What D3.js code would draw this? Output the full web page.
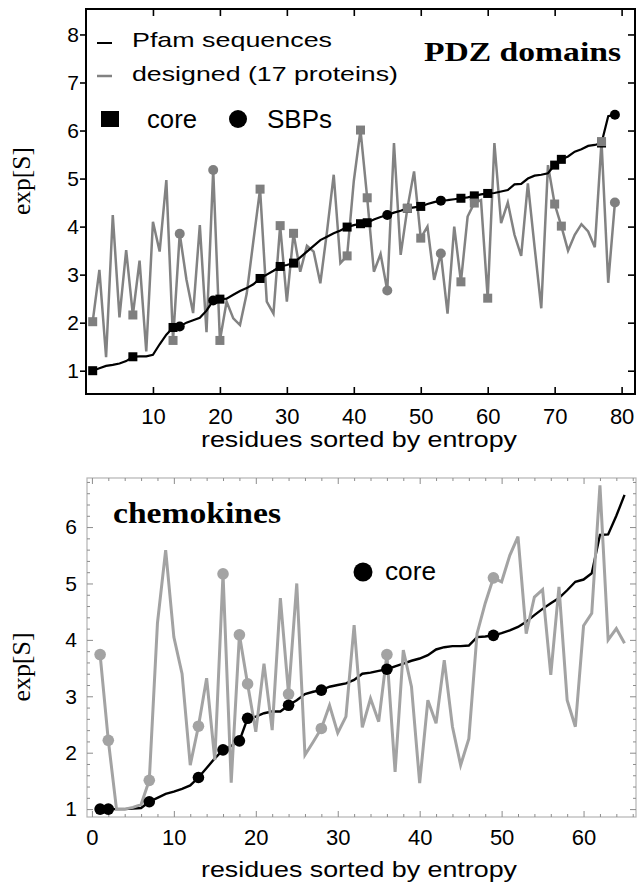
<!DOCTYPE html>
<html lang="en">
<head>
	<meta charset="UTF-8">
	<title>exp[S] - PDZ domains and chemokines</title>
	<script src="https://d3js.org/d3.v7.min.js"></script>
	<style>
		body { margin: 0; background: #ffffff; }
		svg { display: block; }
		text { font-family: "Liberation Sans", Arial, sans-serif; fill: #000; }
		.serif { font-family: "Liberation Serif", "Times New Roman", serif; }
	</style>
</head>
<body>
<script>
	// ---- PDZ domains (top panel), residue 1..79 ----
	var pdzPfam = [1.0,1.05,1.1,1.12,1.15,1.2,1.29,1.3,1.3,1.33,
		1.55,1.75,1.9,1.92,2.0,2.05,2.1,2.25,2.46,2.49,
		2.5,2.58,2.66,2.72,2.8,2.92,3.0,3.08,3.17,3.2,
		3.24,3.36,3.48,3.6,3.72,3.79,3.86,3.92,3.99,4.03,
		4.06,4.08,4.15,4.2,4.24,4.29,4.33,4.38,4.4,4.42,
		4.47,4.51,4.54,4.55,4.57,4.59,4.61,4.64,4.67,4.69,
		4.7,4.73,4.76,4.88,4.89,5.0,5.06,5.08,5.11,5.28,
		5.4,5.46,5.56,5.61,5.68,5.7,5.74,6.3,6.33];
	var pdzDesigned = [2.02,3.1,1.28,4.24,2.11,3.51,2.16,3.29,1.4,4.1,
		3.48,4.97,1.63,3.85,2.9,2.2,4.03,1.8,5.18,1.63,
		2.44,2.09,1.95,2.6,3.7,4.78,2.44,2.19,4.02,2.44,
		3.86,3.06,3.6,3.48,2.82,3.9,5.08,3.24,3.39,4.95,
		6.01,4.6,3.06,3.43,2.67,5.74,3.41,4.38,5.15,3.76,
		4.0,2.89,3.44,2.19,4.0,2.85,4.21,4.49,4.55,2.51,
		5.74,4.07,4.5,3.83,3.39,4.9,3.58,2.3,5.28,4.47,
		4.01,3.5,3.83,4.05,3.9,3.57,5.77,2.83,4.5];
	var pdzCore = [1,7,13,20,26,29,31,39,41,42,48,50,56,58,60,70,71,77];
	var pdzSbp = [14,19,45,53,79];
	var pdzXTicks = [10,20,30,40,50,60,70,80];
	var pdzYTicks = [1,2,3,4,5,6,7,8];

	// ---- chemokines (bottom panel), residue 1..65 ----
	var chemPfam = [1.0,1.0,1.0,1.0,1.01,1.02,1.13,1.2,1.27,1.31,
		1.36,1.42,1.56,1.73,1.9,2.05,2.12,2.21,2.61,2.64,
		2.7,2.73,2.73,2.84,2.93,3.04,3.08,3.11,3.17,3.2,
		3.23,3.29,3.4,3.42,3.45,3.48,3.53,3.58,3.63,3.67,
		3.73,3.83,3.87,3.89,3.89,3.9,4.05,4.06,4.08,4.12,
		4.17,4.23,4.32,4.44,4.55,4.65,4.74,4.88,5.03,5.07,
		5.18,5.86,5.87,6.2,6.57];
	var chemDesigned = [3.74,2.22,1.0,1.0,1.03,1.08,1.51,4.3,5.59,4.05,
		3.4,1.78,2.47,3.32,1.87,5.17,1.47,4.09,3.22,2.37,
		3.58,2.4,4.74,3.04,5.0,1.96,2.19,2.43,2.84,2.35,
		2.64,4.26,2.45,2.96,2.55,3.74,1.66,3.82,3.17,1.46,
		2.93,2.52,3.64,2.46,1.78,2.25,4.11,4.65,5.1,5.03,
		5.5,5.83,4.11,4.76,4.89,3.38,4.94,2.93,2.46,4.25,
		4.47,6.74,4.0,4.2,3.94];
	var chemCore = [1,2,7,13,16,18,19,24,28,36,49];
	var chemXTicks = [0,10,20,30,40,50,60];
	var chemYTicks = [1,2,3,4,5,6];

	var W = 637, H = 883;
	var svg = d3.select('body').append('svg')
		.attr('width', W)
		.attr('height', H);

	function toPts(values) {
		return values.map(function (v, i) { return [i + 1, v]; });
	}

	// ================= top panel =================
	var x1 = d3.scaleLinear().domain([0, 82]).range([86, 635]);
	var y1 = d3.scaleLinear().domain([0.515, 8.53]).range([394, 9]);
	var gTop = svg.append('g');

	var line1 = d3.line()
		.x(function (d) { return x1(d[0]); })
		.y(function (d) { return y1(d[1]); });

	gTop.append('path')
		.attr('d', line1(toPts(pdzDesigned)))
		.attr('fill', 'none').attr('stroke', '#828282').attr('stroke-width', 2.5);
	gTop.append('path')
		.attr('d', line1(toPts(pdzPfam)))
		.attr('fill', 'none').attr('stroke', '#000').attr('stroke-width', 2.2);

	// black markers on Pfam line
	gTop.selectAll('.pcore').data(pdzCore).enter().append('rect')
		.attr('x', function (d) { return x1(d) - 4.5; })
		.attr('y', function (d) { return y1(pdzPfam[d - 1]) - 4.5; })
		.attr('width', 9).attr('height', 9).attr('fill', '#000');
	gTop.selectAll('.psbp').data(pdzSbp).enter().append('circle')
		.attr('cx', function (d) { return x1(d); })
		.attr('cy', function (d) { return y1(pdzPfam[d - 1]); })
		.attr('r', 5).attr('fill', '#000');
	// gray markers on designed line
	gTop.selectAll('.dcore').data(pdzCore).enter().append('rect')
		.attr('x', function (d) { return x1(d) - 4.5; })
		.attr('y', function (d) { return y1(pdzDesigned[d - 1]) - 4.5; })
		.attr('width', 9).attr('height', 9).attr('fill', '#7f7f7f');
	gTop.selectAll('.dsbp').data(pdzSbp).enter().append('circle')
		.attr('cx', function (d) { return x1(d); })
		.attr('cy', function (d) { return y1(pdzDesigned[d - 1]); })
		.attr('r', 5).attr('fill', '#7f7f7f');

	// frame and axes
	gTop.append('rect')
		.attr('x', 86).attr('y', 9).attr('width', 549).attr('height', 385)
		.attr('fill', 'none').attr('stroke', '#000').attr('stroke-width', 2);

	var ax1 = gTop.append('g').attr('transform', 'translate(0,394)')
		.call(d3.axisBottom(x1).tickValues(pdzXTicks).tickSize(-7).tickPadding(14).tickFormat(d3.format('d')));
	var ay1 = gTop.append('g').attr('transform', 'translate(86,0)')
		.call(d3.axisLeft(y1).tickValues(pdzYTicks).tickSize(6).tickPadding(1).tickFormat(d3.format('d')));
	gTop.append('g').attr('transform', 'translate(0,9)')
		.call(d3.axisTop(x1).tickValues(pdzXTicks).tickSize(-7).tickFormat(''));
	gTop.append('g').attr('transform', 'translate(635,0)')
		.call(d3.axisRight(y1).tickValues(pdzYTicks).tickSize(-7).tickFormat(''));
	gTop.selectAll('.domain').remove();
	gTop.selectAll('.tick line').attr('stroke', '#000').attr('stroke-width', 1.6);
	ax1.selectAll('text').attr('font-size', 22).attr('fill', '#000')
		.style('font-family', '"Liberation Sans", Arial, sans-serif');
	ay1.selectAll('text').attr('font-size', 21).attr('fill', '#000')
		.style('font-family', '"Liberation Sans", Arial, sans-serif');

	// legend
	gTop.append('line').attr('x1', 97).attr('x2', 112).attr('y1', 43).attr('y2', 43)
		.attr('stroke', '#000').attr('stroke-width', 2);
	gTop.append('text').attr('x', 132).attr('y', 47).attr('font-size', 21)
		.attr('textLength', 200).attr('lengthAdjust', 'spacingAndGlyphs').text('Pfam sequences');
	gTop.append('line').attr('x1', 97).attr('x2', 112).attr('y1', 76).attr('y2', 76)
		.attr('stroke', '#828282').attr('stroke-width', 2.5);
	gTop.append('text').attr('x', 132).attr('y', 81).attr('font-size', 21)
		.attr('textLength', 266).attr('lengthAdjust', 'spacingAndGlyphs').text('designed (17 proteins)');
	gTop.append('rect').attr('x', 101).attr('y', 111).attr('width', 18).attr('height', 16).attr('fill', '#000');
	gTop.append('text').attr('x', 147).attr('y', 128).attr('font-size', 25)
		.attr('textLength', 50).attr('lengthAdjust', 'spacingAndGlyphs').text('core');
	gTop.append('circle').attr('cx', 238).attr('cy', 119).attr('r', 9).attr('fill', '#000');
	gTop.append('text').attr('x', 267).attr('y', 128).attr('font-size', 25)
		.attr('textLength', 65).attr('lengthAdjust', 'spacingAndGlyphs').text('SBPs');

	gTop.append('text').attr('class', 'serif').attr('x', 424).attr('y', 61)
		.attr('font-size', 28).attr('font-weight', 'bold')
		.attr('textLength', 197).attr('lengthAdjust', 'spacingAndGlyphs').text('PDZ domains');

	gTop.append('text').attr('class', 'serif')
		.attr('transform', 'translate(30,181) rotate(-90)')
		.attr('text-anchor', 'middle').attr('font-size', 25)
		.attr('textLength', 68).attr('lengthAdjust', 'spacingAndGlyphs').text('exp[S]');
	gTop.append('text').attr('x', 359).attr('y', 447).attr('text-anchor', 'middle')
		.attr('font-size', 22).attr('textLength', 316).attr('lengthAdjust', 'spacingAndGlyphs')
		.text('residues sorted by entropy');

	// ================= bottom panel =================
	var x2 = d3.scaleLinear().domain([-0.6, 66.4]).range([87, 636]);
	var y2 = d3.scaleLinear().domain([0.86, 6.87]).range([817, 478]);
	var gBot = svg.append('g');

	var line2 = d3.line()
		.x(function (d) { return x2(d[0]); })
		.y(function (d) { return y2(d[1]); });

	// frame, light gray with minor ticks
	gBot.append('rect')
		.attr('x', 87).attr('y', 478).attr('width', 549).attr('height', 339)
		.attr('fill', 'none').attr('stroke', '#b4b4b4').attr('stroke-width', 1.2);

	var xMinor = d3.range(0, 67, 2).filter(function (v) { return v % 10 !== 0; });
	var yMinor = d3.range(1, 6.85, 0.2).filter(function (v) { return Math.abs(v - Math.round(v)) > 0.01; });

	var axb = gBot.append('g').attr('transform', 'translate(0,817)')
		.call(d3.axisBottom(x2).tickValues(chemXTicks).tickSize(-6).tickPadding(12).tickFormat(d3.format('d')));
	gBot.append('g').attr('transform', 'translate(0,817)')
		.call(d3.axisBottom(x2).tickValues(xMinor).tickSize(-3).tickFormat(''));
	gBot.append('g').attr('transform', 'translate(0,478)')
		.call(d3.axisTop(x2).tickValues(chemXTicks).tickSize(-6).tickFormat(''));
	gBot.append('g').attr('transform', 'translate(0,478)')
		.call(d3.axisTop(x2).tickValues(xMinor).tickSize(-3).tickFormat(''));
	var ayb = gBot.append('g').attr('transform', 'translate(87,0)')
		.call(d3.axisLeft(y2).tickValues(chemYTicks).tickSize(-6).tickPadding(10).tickFormat(d3.format('d')));
	gBot.append('g').attr('transform', 'translate(87,0)')
		.call(d3.axisLeft(y2).tickValues(yMinor).tickSize(-3).tickFormat(''));
	gBot.append('g').attr('transform', 'translate(636,0)')
		.call(d3.axisRight(y2).tickValues(chemYTicks).tickSize(-6).tickFormat(''));
	gBot.append('g').attr('transform', 'translate(636,0)')
		.call(d3.axisRight(y2).tickValues(yMinor).tickSize(-3).tickFormat(''));
	gBot.selectAll('.domain').remove();
	gBot.selectAll('.tick line').attr('stroke', '#8c8c8c').attr('stroke-width', 1);
	axb.selectAll('text').attr('font-size', 22).attr('fill', '#000')
		.style('font-family', '"Liberation Sans", Arial, sans-serif');
	ayb.selectAll('text').attr('font-size', 21).attr('fill', '#000')
		.style('font-family', '"Liberation Sans", Arial, sans-serif');

	gBot.append('path')
		.attr('d', line2(toPts(chemPfam)))
		.attr('fill', 'none').attr('stroke', '#000').attr('stroke-width', 2.4);
	gBot.append('path')
		.attr('d', line2(toPts(chemDesigned)))
		.attr('fill', 'none').attr('stroke', '#a3a3a3').attr('stroke-width', 3);

	gBot.selectAll('.gcore').data(chemCore).enter().append('circle')
		.attr('cx', function (d) { return x2(d); })
		.attr('cy', function (d) { return y2(chemDesigned[d - 1]); })
		.attr('r', 5.8).attr('fill', '#a3a3a3');
	gBot.selectAll('.bcore').data(chemCore).enter().append('circle')
		.attr('cx', function (d) { return x2(d); })
		.attr('cy', function (d) { return y2(chemPfam[d - 1]); })
		.attr('r', 5.8).attr('fill', '#000');

	// legend and labels
	gBot.append('circle').attr('cx', 363).attr('cy', 572).attr('r', 9.5).attr('fill', '#000');
	gBot.append('text').attr('x', 385).attr('y', 580).attr('font-size', 25)
		.attr('textLength', 51).attr('lengthAdjust', 'spacingAndGlyphs').text('core');
	gBot.append('text').attr('class', 'serif').attr('x', 113).attr('y', 523)
		.attr('font-size', 30).attr('font-weight', 'bold')
		.attr('textLength', 168).attr('lengthAdjust', 'spacingAndGlyphs').text('chemokines');

	gBot.append('text').attr('class', 'serif')
		.attr('transform', 'translate(30,667) rotate(-90)')
		.attr('text-anchor', 'middle').attr('font-size', 25)
		.attr('textLength', 69).attr('lengthAdjust', 'spacingAndGlyphs').text('exp[S]');
	gBot.append('text').attr('x', 359).attr('y', 877).attr('text-anchor', 'middle')
		.attr('font-size', 22).attr('textLength', 316).attr('lengthAdjust', 'spacingAndGlyphs')
		.text('residues sorted by entropy');
</script>
</body>
</html>
